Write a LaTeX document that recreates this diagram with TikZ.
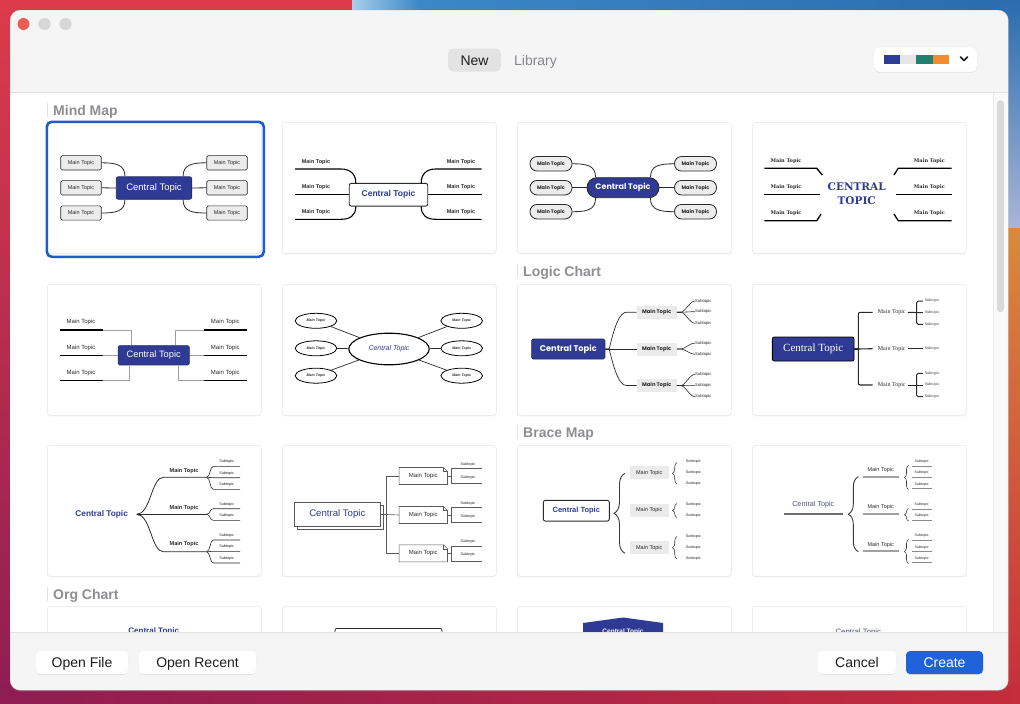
\documentclass[tikz,border=0pt]{standalone}
\usepackage{fontspec}
\setmainfont{Liberation Sans}
\newfontfamily\popf{Poppins}
\newfontfamily\serf{Liberation Serif}
\newfontfamily\slabf{DejaVu Serif}
\usetikzlibrary{shapes.geometric,shadows,decorations.pathreplacing}
\newcommand\fsz[1]{\fontsize{#1}{#1}\selectfont}
\definecolor{navy}{HTML}{2E3A93}
\definecolor{ink}{HTML}{2A2A2A}
\definecolor{winbg}{HTML}{F5F5F6}
\definecolor{cardedge}{HTML}{E6E6E8}
\definecolor{selblue}{HTML}{1F5BD0}
\definecolor{seclbl}{HTML}{8E8E93}
\definecolor{mtfill}{HTML}{ECECEC}
\definecolor{gfill}{HTML}{EBEBEB}
\definecolor{sep}{HTML}{E2E2E4}
\definecolor{wpRed}{HTML}{DC3B4B}
\definecolor{wpPurple}{HTML}{8E1D52}
\definecolor{wpRedB}{HTML}{C52C3C}
\definecolor{wpBlue}{HTML}{3B87C7}
\definecolor{wpBlueD}{HTML}{2A6CAE}
\definecolor{wpLight}{HTML}{A9CDEA}
\definecolor{wpGrey}{HTML}{A9B6D6}
\definecolor{wpOrange}{HTML}{D98A3C}
\definecolor{btnblue}{HTML}{1F62D9}
\definecolor{txt}{HTML}{1D1D1F}
\definecolor{txtgray}{HTML}{86868B}
\definecolor{swNavy}{HTML}{2F3C96}
\definecolor{swGrey}{HTML}{E6E6E6}
\definecolor{swTeal}{HTML}{1F806F}
\definecolor{swOrange}{HTML}{F28C2E}
\definecolor{thumbc}{HTML}{D9D9DB}
\definecolor{lightred}{HTML}{EE5B52}
\definecolor{lightgrey}{HTML}{D6D6D8}
\definecolor{braceink}{HTML}{3A3A3A}
\definecolor{navygrey}{HTML}{4B5078}
\definecolor{ulgray}{HTML}{8A8A8A}
\begin{document}
\begin{tikzpicture}[x=1pt,y=-1pt,
  card/.style={fill=white, draw=cardedge, line width=.5pt, rounded corners=3pt, minimum width=214pt, minimum height=131pt, anchor=north west, inner sep=0pt, drop shadow={opacity=.10, shadow xshift=0pt, shadow yshift=-1.2pt}},
  navybox/.style={fill=navy, draw=navy!70!black, line width=.6pt, rounded corners=2pt, text=white, inner sep=0pt},
  mtbox/.style={draw=ink, fill=mtfill, line width=.6pt, rounded corners=1.5pt, minimum width=40.5pt, minimum height=14.3pt, inner sep=0pt, font=\fsz{5.5}, text=ink},
  pillS/.style={draw=ink, fill=mtfill, line width=.8pt, rounded corners=7pt, minimum width=42pt, minimum height=14.5pt, inner sep=0pt, font=\popf\bfseries\fsz{5}, text=ink},
  conn/.style={draw=ink, line width=.8pt},
  tl/.style={draw=black, line width=1.1pt},
  gconn/.style={draw=gray!75, line width=.6pt},
  ul/.style={draw=black, line width=1.5pt},
  thin/.style={draw=ink, line width=.6pt},
  sublbl/.style={inner sep=0pt, font=\fsz{4.2}, text=ink},
  uitext/.style={text height=10.5pt, text depth=.5pt},
  seclabel/.style={anchor=west, inner sep=0pt, uitext, font=\bfseries\fsz{14}, text=seclbl},
  btn/.style={fill=white, rounded corners=4pt, minimum height=23pt, inner sep=0pt, uitext, font=\fsz{14}, text=txt, drop shadow={opacity=.15, shadow xshift=0pt, shadow yshift=-.8pt}},
  bracebig/.style={draw=braceink, line width=.9pt, decorate, decoration={brace, amplitude=#1}},
  jbox/.style={draw=gray!70!black, line width=.6pt},
]
\useasboundingbox (0,0) rectangle (1020,704);
% ---------- wallpaper
\fill[top color=wpRed, bottom color=wpPurple] (0,0) rectangle (1020,704);
\fill[left color=wpLight, right color=wpBlue] (352,0) rectangle (420,12);
\fill[left color=wpBlue, right color=wpBlueD] (420,0) rectangle (1020,12);
\fill[top color=wpBlueD, bottom color=wpGrey] (1000,0) rectangle (1020,228);
\fill[top color=wpOrange, bottom color=wpRedB] (1000,228) rectangle (1020,704);
\fill[left color=wpPurple, right color=wpRedB] (0,684) rectangle (1020,704);
% ---------- window
\node[fill=winbg, draw=black!15, line width=.4pt, rounded corners=10pt, minimum width=998pt, minimum height=680pt, anchor=north west, inner sep=0pt, drop shadow={opacity=.18, shadow xshift=0pt, shadow yshift=-2pt}] (win) at (10,10) {};
\fill[white] (10.3,92.5) rectangle (1007.7,632);
% traffic lights
\node[circle, fill=lightred, minimum size=12pt, inner sep=0pt] (tl1) at (23.5,24) {};
\node[circle, fill=lightgrey, draw=black!12, line width=.3pt, minimum size=12pt, inner sep=0pt] (tl2) at (44.5,24) {};
\node[circle, fill=lightgrey, draw=black!12, line width=.3pt, minimum size=12pt, inner sep=0pt] (tl3) at (65.5,24) {};
% tabs
\node[fill=black!11, rounded corners=5pt, minimum width=53pt, minimum height=23pt, inner sep=0pt, uitext, font=\fsz{14}, text=txt] (tabNew) at (474.5,60) {New};
\node[inner sep=0pt, uitext, font=\fsz{14}, text=txtgray] (tabLib) at (535.5,60) {Library};
% colour picker
\node[fill=white, draw=black!8, line width=.3pt, rounded corners=5pt, minimum width=103pt, minimum height=25pt, inner sep=0pt, drop shadow={opacity=.15, shadow xshift=0pt, shadow yshift=-.8pt}] (pick) at (925.5,59.5) {};
\fill[swNavy] (884,55) rectangle (900,64);
\fill[swGrey] (900,55) rectangle (916,64);
\fill[swTeal] (916,55) rectangle (933,64);
\fill[swOrange] (933,55) rectangle (949,64);
\draw[line width=1.6pt, line cap=round, line join=round, txt] (960.5,57) -- (964,60.5) -- (967.5,57);

% ---------- content
\begin{scope}
\clip (10.3,93) rectangle (993,632);
\node[seclabel] (s1) at (53,110) {Mind Map};
\draw[sep, line width=1pt] (47.5,103) -- (47.5,117);
\node[seclabel] (s2) at (523,271) {Logic Chart};
\draw[sep, line width=1pt] (517.5,264) -- (517.5,278);
\node[seclabel] (s3) at (523,432) {Brace Map};
\draw[sep, line width=1pt] (517.5,425) -- (517.5,439);
\node[seclabel] (s4) at (53,594) {Org Chart};
\draw[sep, line width=1pt] (47.5,587) -- (47.5,601);

% cards
\node[card] (cd1) at (47,122) {};
\node[card] (cd2) at (282,122) {};
\node[card] (cd3) at (517,122) {};
\node[card] (cd4) at (752,122) {};
\node[card] (cd5) at (47,284) {};
\node[card] (cd6) at (282,284) {};
\node[card] (cd7) at (517,284) {};
\node[card] (cd8) at (752,284) {};
\node[card] (cd9) at (47,445) {};
\node[card] (cd10) at (282,445) {};
\node[card] (cd11) at (517,445) {};
\node[card] (cd12) at (752,445) {};
\node[card] (cd13) at (47,606) {};
\node[card] (cd14) at (282,606) {};
\node[card] (cd15) at (517,606) {};
\node[card] (cd16) at (752,606) {};
\node[draw=selblue, line width=2.6pt, rounded corners=5pt, minimum width=217pt, minimum height=135pt, anchor=north west, inner sep=0pt] (sel) at (45.5,120.5) {};

% ---- card 1
\node[navybox, minimum width=75.5pt, minimum height=22.5pt, font=\fsz{9.5}] (a0) at (154,188) {Central Topic};
\foreach \n/\x/\y in {a1/81/162.8, a2/81/187.8, a3/81/213, a4/227/162.8, a5/227/187.8, a6/227/213}
  \node[mtbox] (\n) at (\x,\y) {Main Topic};
\draw[conn] ([xshift=9pt]a0.north west) .. controls +(0,-12) and +(14,0) .. (a1.east);
\draw[conn] (a0.west) -- (a2.east);
\draw[conn] ([xshift=9pt]a0.south west) .. controls +(0,12) and +(14,0) .. (a3.east);
\draw[conn] ([xshift=-9pt]a0.north east) .. controls +(0,-12) and +(-14,0) .. (a4.west);
\draw[conn] (a0.east) -- (a5.west);
\draw[conn] ([xshift=-9pt]a0.south east) .. controls +(0,12) and +(-14,0) .. (a6.west);

% ---- card 2
\node[draw=ink, fill=white, line width=.9pt, rounded corners=2pt, minimum width=78.5pt, minimum height=22.7pt, inner sep=0pt, text=navy, font=\fsz{8.5}\bfseries] (b0) at (388.5,194.7) {Central Topic};
\foreach \n/\x/\y in {b1/316/162, b2/316/187, b3/316/212, b4/461/162, b5/461/187, b6/461/212}
  \node[inner sep=0pt, font=\fsz{5.5}\bfseries, text=ink] (\n) at (\x,\y) {Main Topic};
\coordinate (b1e) at (295,169);
\coordinate (b2e) at (295,194.7);
\coordinate (b3e) at (295,219.3);
\coordinate (b4e) at (481.7,169);
\coordinate (b5e) at (481.7,194.7);
\coordinate (b6e) at (481.7,219.3);
\draw[tl] (b1e) -- ++(46,0) .. controls +(9,0) and +(0,-9) .. ([xshift=7pt]b0.north west);
\draw[tl] (b2e) -- (b0.west);
\draw[tl] (b3e) -- ++(46,0) .. controls +(9,0) and +(0,9) .. ([xshift=7pt]b0.south west);
\draw[tl] (b4e) -- ++(-46,0) .. controls +(-9,0) and +(0,-9) .. ([xshift=-7pt]b0.north east);
\draw[tl] (b5e) -- (b0.east);
\draw[tl] (b6e) -- ++(-46,0) .. controls +(-9,0) and +(0,9) .. ([xshift=-7pt]b0.south east);

% ---- card 3
\node[fill=navy, draw=ink, line width=.9pt, rounded corners=10pt, minimum width=72pt, minimum height=20pt, inner sep=0pt, text=white, font=\popf\bfseries\fsz{8}] (c0) at (623,187.7) {Central Topic};
\foreach \n/\x/\y in {c1/551/163.8, c2/551/187.7, c3/551/211.7, c4/695.5/163.8, c5/695.5/187.7, c6/695.5/211.7}
  \node[pillS] (\n) at (\x,\y) {Main Topic};
\draw[conn] ([xshift=9pt]c0.north west) .. controls +(0,-12) and +(14,0) .. (c1.east);
\draw[conn] (c0.west) -- (c2.east);
\draw[conn] ([xshift=9pt]c0.south west) .. controls +(0,12) and +(14,0) .. (c3.east);
\draw[conn] ([xshift=-9pt]c0.north east) .. controls +(0,-12) and +(-14,0) .. (c4.west);
\draw[conn] (c0.east) -- (c5.west);
\draw[conn] ([xshift=-9pt]c0.south east) .. controls +(0,12) and +(-14,0) .. (c6.west);

% ---- card 4
\node[inner sep=0pt, align=center, text=navy, font=\slabf\bfseries\fontsize{10.5}{14.3}\selectfont] (d0) at (856.7,194) {CENTRAL\\TOPIC};
\foreach \n/\x/\y in {d1/786/161, d2/786/187, d3/786/213, d4/929.3/161, d5/929.3/187, d6/929.3/213}
  \node[inner sep=0pt, font=\slabf\bfseries\fsz{5}, text=ink] (\n) at (\x,\y) {Main Topic};
\coordinate (d1e) at (764.3,168.3);
\coordinate (d2e) at (764.3,194.3);
\coordinate (d3e) at (764.3,220.7);
\coordinate (d4e) at (951.7,168.3);
\coordinate (d5e) at (951.7,194.3);
\coordinate (d6e) at (951.7,220.7);
\draw[draw=black, line width=1.3pt] (d1e) -- ++(52.4,0) -- ++(5.6,6.7);
\draw[draw=black, line width=1.3pt] (d2e) -- ++(55.4,0);
\draw[draw=black, line width=1.3pt] (d3e) -- ++(52.4,0) -- ++(4.4,-6.7);
\draw[draw=black, line width=1.3pt] (d4e) -- ++(-53.4,0) -- ++(-4.4,6.7);
\draw[draw=black, line width=1.3pt] (d5e) -- ++(-55.7,0);
\draw[draw=black, line width=1.3pt] (d6e) -- ++(-53.4,0) -- ++(-4.4,-6.7);

% ---- card 5
\node[navybox, rounded corners=1.5pt, minimum width=71.3pt, minimum height=19.3pt, font=\fsz{9.25}] (e0) at (153.7,355.3) {Central Topic};
\foreach \n/\x/\y in {e1/81/322.3, e2/81/347.7, e3/81/373, e4/225.3/322.3, e5/225.3/347.7, e6/225.3/373}
  \node[inner sep=0pt, font=\fsz{6}, text=ink] (\n) at (\x,\y) {Main Topic};
\foreach \n/\xa/\xb/\y in {e1/60/102.7/330, e2/60/102.7/355.3, e3/60/102.7/380.7, e4/204.3/247.3/330, e5/204.3/247.3/355.3, e6/204.3/247.3/380.7}
  {\coordinate (\n a) at (\xa,\y); \coordinate (\n b) at (\xb,\y); \draw[ul] (\n a) -- (\n b);}
\draw[gconn] (e1b) -| ([xshift=14pt]e0.north west);
\draw[gconn] (e2b) -- (e0.west);
\draw[gconn] (e3b) -| ([xshift=11.7pt]e0.south west);
\draw[gconn] (e4a) -| ([xshift=-14pt]e0.north east);
\draw[gconn] (e5a) -- (e0.east);
\draw[gconn] (e6a) -| ([xshift=-11.7pt]e0.south east);

% ---- card 6
\node[ellipse, draw=black, line width=1.1pt, minimum width=80.4pt, minimum height=31.6pt, inner sep=0pt, text=navy, font=\itshape\fsz{7}] (f0) at (389,349) {Central Topic};
\foreach \n/\x/\y in {f1/316/320.8, f2/316/348.3, f3/316/375.7, f4/461.7/320.8, f5/461.7/348.3, f6/461.7/375.7}
  {\node[ellipse, draw=black, line width=.8pt, minimum width=41.6pt, minimum height=15pt, inner sep=0pt, text=ink, font=\bfseries\itshape\fsz{3.6}] (\n) at (\x,\y) {Main Topic};
   \draw[draw=ink, line width=.7pt] (\n) -- (f0);}

% ---- card 7
\node[navybox, rounded corners=1.5pt, minimum width=73.3pt, minimum height=20pt, font=\popf\bfseries\fsz{8.3}] (g0) at (568.3,349) {Central Topic};
\foreach \n/\y in {g1/312.2, g2/349, g3/385.5}
  \node[fill=gfill, minimum width=40pt, minimum height=13pt, inner sep=0pt, text=ink, font=\popf\bfseries\fsz{5.2}] (\n) at (656.7,\y) {Main Topic};
\draw[thin, line width=.7pt] (g0.east) -- ++(4,0) .. controls +(5,-22) and +(-7,0) .. ([xshift=-10pt]g1.west) -- (g1.west);
\draw[thin, line width=.7pt] (g0.east) -- (g2.west);
\draw[thin, line width=.7pt] (g0.east) -- ++(4,0) .. controls +(5,22) and +(-7,0) .. ([xshift=-10pt]g3.west) -- (g3.west);
\foreach \m/\s/\y in {g1/g11/301, g1/g12/311.7, g1/g13/323.3, g2/g21/343, g2/g22/354.3, g3/g31/374.3, g3/g32/385.7, g3/g33/396.7}
  {\node[sublbl] (\s) at (703.3,\y) {Subtopic};
   \draw[thin] (\m.east) -- ++(4,0) .. controls +(4,0) and +(-5,0) .. (\s.west);}

% ---- card 8
\node[navybox, draw=black, line width=.8pt, minimum width=81.7pt, minimum height=24pt, font=\serf\fsz{11}] (h0) at (813.2,349) {Central Topic};
\foreach \n/\y in {h1/312.3, h2/348.7, h3/385}
  \node[inner sep=0pt, font=\serf\fsz{6}, text=ink] (\n) at (891.7,\y) {Main Topic};
\coordinate (hJ) at (858.3,349);
\draw[draw=ink, line width=1.1pt] (h0.east) -- (hJ);
\draw[draw=ink, line width=1.1pt, rounded corners=2pt] ([xshift=-5pt]h1.west) -| (hJ) |- ([xshift=-5pt]h3.west);
\draw[draw=ink, line width=1.1pt] (hJ) -- ([xshift=-5pt]h2.west);
\foreach \s/\y in {h11/301, h12/312.7, h13/324.3, h21/348.7, h31/373.3, h32/385, h33/396.7}
  \node[inner sep=0pt, font=\serf\fsz{4}, text=ink] (\s) at (932.3,\y) {Subtopic};
\draw[draw=ink, line width=1pt] ([xshift=2pt]h1.east) -- ([xshift=-2pt]h12.west);
\draw[draw=ink, line width=1pt, rounded corners=1.5pt] ([xshift=-2pt]h11.west) -| (916.7,312.5) |- ([xshift=-2pt]h13.west);
\draw[draw=ink, line width=1pt] ([xshift=2pt]h2.east) -- ([xshift=-2pt]h21.west);
\draw[draw=ink, line width=1pt] ([xshift=2pt]h3.east) -- ([xshift=-2pt]h32.west);
\draw[draw=ink, line width=1pt, rounded corners=1.5pt] ([xshift=-2pt]h31.west) -| (916.7,385) |- ([xshift=-2pt]h33.west);

% ---- card 9
\node[inner sep=0pt, text=navy, font=\bfseries\fsz{8.3}] (i0) at (101.7,514.3) {Central Topic};
\foreach \n/\y in {i1/470.7, i2/507.7, i3/544.3}
  \node[inner sep=0pt, text=ink, font=\bfseries\fsz{5.6}] (\n) at (184,\y) {Main Topic};
\coordinate (iJ) at (136.7,514.3);
\coordinate (i1a) at (163.3,477.3);  \coordinate (i1b) at (206.7,477.3);
\coordinate (i2b) at (206.7,514.3);
\coordinate (i3a) at (163.3,551.7);  \coordinate (i3b) at (206.7,551.7);
\draw[thin, line width=.8pt] (iJ) .. controls +(14,0) and +(-12,0) .. (i1a) -- (i1b);
\draw[thin, line width=.8pt] (iJ) -- (i2b);
\draw[thin, line width=.8pt] (iJ) .. controls +(14,0) and +(-12,0) .. (i3a) -- (i3b);
\foreach \m/\s/\y in {i1b/i11/466.3, i1b/i12/477.7, i1b/i13/489.3, i2b/i21/508.7, i2b/i22/520.3, i3b/i31/540, i3b/i32/551.3, i3b/i33/563}
  {\coordinate (\s l) at (213.3,\y);
   \node[inner sep=0pt, font=\fsz{3.8}, text=ink] (\s) at (226.7,\y-4.6) {Subtopic};
   \draw[thin] (\m) .. controls +(3.5,0) and +(-3.5,0) .. (\s l) -- ++(26.7,0);}

% ---- card 10
\node[draw=gray!70!black, fill=white, line width=.6pt, minimum width=85.3pt, minimum height=24.4pt, inner sep=0pt] (j0b) at (340.3,517.5) {};
\node[draw=gray!70!black, fill=white, line width=.6pt, minimum width=85.3pt, minimum height=24.4pt, inner sep=0pt, text=navy, font=\fsz{9.6}] (j0) at (337.3,514.5) {Central Topic};
\coordinate (jJ) at (386.7,514.5);
\foreach \n/\y in {j1/476, j2/515, j3/553.3}
  {\node[minimum width=48pt, minimum height=16.6pt, inner sep=0pt, font=\fsz{6}, text=ink] (\n) at (423.3,\y) {Main Topic};
   \draw[jbox] (\n.north west) -- ([xshift=-4pt]\n.north east) -- ([yshift=-4pt]\n.north east) -- (\n.south east) -- (\n.south west) -- cycle;
   \draw[jbox, line width=.4pt] ([xshift=-4pt]\n.north east) |- ([yshift=-4pt]\n.north east);
   \draw[jbox] (\n.east) -- (451.3,\y);
   \draw[jbox] (481.7,\y-7.3) -- (451.3,\y-7.3) -- (451.3,\y+7.7) -- (481.7,\y+7.7);
   \node[inner sep=0pt, font=\fsz{3.8}, text=ink] (\n s1) at (468,\y-11.5) {Subtopic};
   \node[inner sep=0pt, font=\fsz{3.8}, text=ink] (\n s2) at (468,\y+1.3) {Subtopic};}
\draw[jbox] (j0.east) -- (jJ);
\draw[jbox] (j1.west) -| (jJ) |- (j3.west);
\draw[jbox] (jJ) -- (j2.west);

% ---- card 11
\node[draw=ink, fill=white, line width=.9pt, rounded corners=2pt, minimum width=66pt, minimum height=20.7pt, inner sep=0pt, text=navy, font=\bfseries\fsz{7.5}] (m0) at (576.3,510.7) {Central Topic};
\coordinate (mbT) at (625,473.3);
\coordinate (mbB) at (625,553.3);
\draw[bracebig=11pt] (mbB) -- (mbT);
\foreach \n/\y in {m1/472.8, m2/510.5, m3/547.8}
  \node[fill=gfill, minimum width=38.7pt, minimum height=13pt, inner sep=0pt, text=ink, font=\fsz{5.5}] (\n) at (649.3,\y) {Main Topic};
\draw[bracebig=4.5pt, line width=.6pt] (677,484) -- (677,462.5);
\draw[bracebig=4.5pt, line width=.6pt] (677,517.5) -- (677,503.5);
\draw[bracebig=4.5pt, line width=.6pt] (677,559) -- (677,536.5);
\foreach \s/\y in {m11/462, m12/473, m13/484, m21/505, m22/516, m31/536.7, m32/547.7, m33/558.7}
  \node[inner sep=0pt, font=\fsz{3.8}, text=ink] (\s) at (693.3,\y) {Subtopic};

% ---- card 12
\node[inner sep=0pt, text=navygrey, font=\fsz{7.2}] (n0) at (813.3,505) {Central Topic};
\coordinate (n0a) at (784.3,513.7); \coordinate (n0b) at (843.3,513.7);
\draw[draw=ulgray!80!black, line width=2.4pt] (n0a) -- (n0b);
\draw[bracebig=10pt] (858.3,551.7) -- (858.3,476.7);
\foreach \n/\y in {n1/476.7, n2/513.7, n3/551}
  {\node[inner sep=0pt, text=ink, font=\fsz{5.5}] (\n) at (880.7,\y-6.2) {Main Topic};
   \draw[draw=ulgray!80, line width=2pt] (862.7,\y) -- (899.3,\y);}
\draw[bracebig=4pt, line width=.6pt] (908.5,489.5) -- (908.5,465.5);
\draw[bracebig=4pt, line width=.6pt] (908.5,521) -- (908.5,508.5);
\draw[bracebig=4pt, line width=.6pt] (908.5,563.5) -- (908.5,539.5);
\foreach \s/\y in {n11/466, n12/477.3, n13/488.7, n21/509, n22/520.3, n31/540.2, n32/551.5, n33/562.8}
  {\node[inner sep=0pt, font=\fsz{3.6}, text=ink] (\s) at (921.7,\y-4.4) {Subtopic};
   \draw[draw=ulgray, line width=.9pt] (911.7,\y) -- (932.3,\y);}

% ---- org chart row (partly hidden)
\node[inner sep=0pt, text=navy, font=\bfseries\fsz{8}] (o1) at (153.7,631.5) {Central Topic};
\node[draw=ink, line width=.8pt, rounded corners=2pt, minimum width=107pt, minimum height=22pt, anchor=north, inner sep=0pt] (o2) at (388.5,628) {};
\fill[navy] (583,623) -- (623,617.5) -- (663,623) -- (663,645) -- (583,645) -- cycle;
\node[inner sep=0pt, text=white, font=\bfseries\fsz{6.5}] (o3) at (623,631.5) {Central Topic};
\node[inner sep=0pt, text=navygrey, font=\fsz{7.8}] (o4) at (858.3,632) {Central Topic};
\end{scope}

% scrollbar
\fill[black!2] (993,93) rectangle (1007.6,632);
\draw[black!8, line width=.5pt] (993,93) -- (993,632);
\node[fill=thumbc, rounded corners=3.5pt, minimum width=7pt, minimum height=212pt, anchor=north, inner sep=0pt] (thumb) at (1000.5,100) {};

% separators
\draw[sep, line width=.8pt] (10.3,92.5) -- (1007.7,92.5);
\draw[sep, line width=.8pt] (10.3,632) -- (1007.7,632);

% ---------- bottom buttons
\node[btn, minimum width=92pt] (bOpen) at (82,662.5) {Open File};
\node[btn, minimum width=117pt] (bRecent) at (197.5,662.5) {Open Recent};
\node[btn, minimum width=78pt] (bCancel) at (857,662.5) {Cancel};
\node[btn, minimum width=77pt, fill=btnblue, text=white] (bCreate) at (944.5,662.5) {Create};
\end{tikzpicture}
\end{document}
